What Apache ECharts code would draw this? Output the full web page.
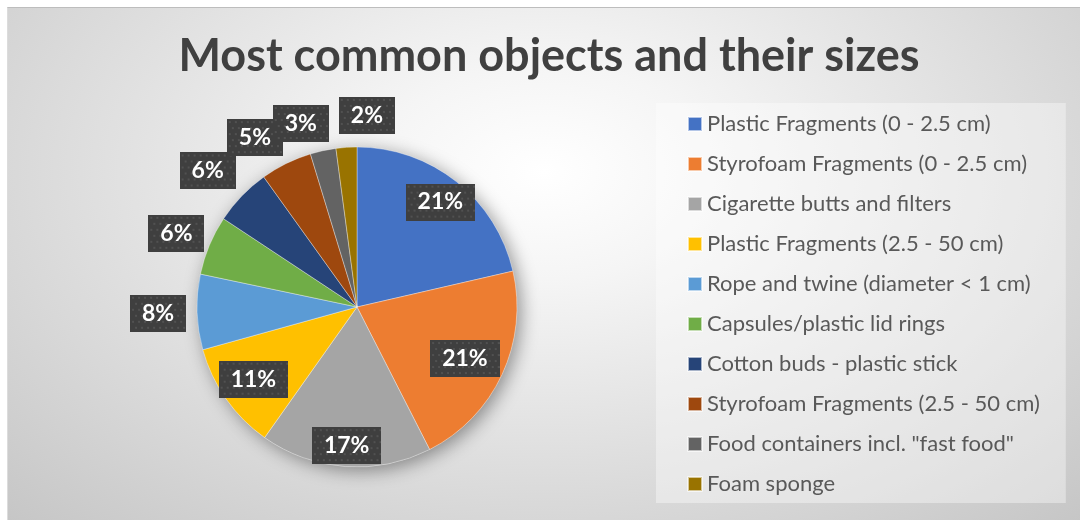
<!DOCTYPE html>
<html>
<head>
<meta charset="utf-8">
<title>Most common objects and their sizes</title>
<script src="https://cdn.jsdelivr.net/npm/echarts@6/dist/echarts.min.js"></script>
<style>
  html, body { margin: 0; padding: 0; background: #ffffff; }
  #chart {
    position: absolute; left: 7px; top: 7px; width: 1073px; height: 513px;
    background: radial-gradient(ellipse 72% 95% at 50% 32%, #ffffff 0%, #f5f5f5 22%, #dedede 60%, #c6c6c6 100%);
    border-top: 1px solid #bdbdbd;
    border-left: 1px solid #dcdcdc;
    box-sizing: border-box;
  }
</style>
</head>
<body>
<div id="chart"></div>
<script>
// Litter categories and their counts (share of all items found)
const categories = [
  'Plastic Fragments (0 - 2.5 cm)',
  'Styrofoam Fragments (0 - 2.5 cm)',
  'Cigarette butts and filters',
  'Plastic Fragments (2.5 - 50 cm)',
  'Rope and twine (diameter < 1 cm)',
  'Capsules/plastic lid rings',
  'Cotton buds - plastic stick',
  'Styrofoam Fragments (2.5 - 50 cm)',
  'Food containers incl. "fast food"',
  'Foam sponge'
];
const shares = [21.4, 21.1, 17.3, 10.9, 7.6, 6.0, 5.8, 5.2, 2.6, 2.1];
const colors = ['#4472C4', '#ED7D31', '#A5A5A5', '#FFC000', '#5B9BD5',
                '#70AD47', '#264478', '#9E480E', '#636363', '#997300'];

// Slices whose percentage sits inside the pie; the rest go outside
const insideCount = 4;
// Small per-label nudges (dx, dy) so the callouts do not collide
const labelNudge = [[3, -4], [-9, -3], [-1, 10], [2, -2],
                    [0, 0], [3, 3], [-6, 2], [-14, 9], [-14, 11], [23, 7]];

const CX = 349, CY = 299, R = 160;

// Dark dotted fill for the percentage callouts
function dotted(w, h) {
  const c = document.createElement('canvas');
  c.width = w; c.height = h;
  const g = c.getContext('2d');
  g.fillStyle = '#3f3f3f';
  g.fillRect(0, 0, w, h);
  g.fillStyle = '#575757';
  let row = 0;
  for (let y = 3; y < h; y += 6, row++) {
    for (let x = (row % 2 ? 6 : 3); x < w; x += 6) {
      g.beginPath();
      g.arc(x, y, 1.1, 0, Math.PI * 2);
      g.fill();
    }
  }
  return c;
}

const FONT = 'Lato, "Open Sans", sans-serif';

function calloutLabel(bgCanvas) {
  return {
    position: 'inside',
    formatter: '{d}%',
    color: '#ffffff',
    fontFamily: FONT,
    fontWeight: 'bold',
    fontSize: 23,
    lineHeight: 23,
    padding: [7, 12, 7, 12],
    backgroundColor: { image: bgCanvas },
    shadowColor: 'rgba(0,0,0,0.45)',
    shadowBlur: 5,
    shadowOffsetX: 2,
    shadowOffsetY: 3
  };
}

const chart = echarts.init(document.getElementById('chart'), null, { renderer: 'canvas' });

const mainData = categories.map((name, i) => ({
  name, value: shares[i], itemStyle: { color: colors[i] }
}));

function overlayData(showFn) {
  return categories.map((name, i) => ({
    name, value: shares[i], label: { show: showFn(i) }
  }));
}

function nudgeLayout(params) {
  const n = labelNudge[params.dataIndex] || [0, 0];
  return { dx: n[0], dy: n[1] };
}

const overlayCommon = {
  type: 'pie',
  center: [CX, CY],
  startAngle: 90,
  silent: true,
  percentPrecision: 0,
  itemStyle: { color: 'rgba(0,0,0,0)', borderWidth: 0 },
  emphasis: { disabled: true },
  labelLine: { show: false },
  labelLayout: nudgeLayout,
  animation: false
};

chart.setOption({
  backgroundColor: 'transparent',
  animation: false,
  title: {
    text: 'Most common objects and their sizes',
    left: 541,
    top: 26,
    padding: 0,
    textAlign: 'center',
    textStyle: {
      fontFamily: FONT,
      fontWeight: 'bold',
      fontSize: 45,
      color: '#404040'
    }
  },
  legend: {
    orient: 'vertical',
    left: 648,
    top: 95,
    padding: [10, 26, 8, 31],
    itemGap: 18,
    itemWidth: 14,
    itemHeight: 14,
    icon: 'rect',
    backgroundColor: 'rgba(255,255,255,0.38)',
    data: categories,
    textStyle: {
      fontFamily: FONT,
      fontSize: 22,
      lineHeight: 22,
      color: '#595959'
    }
  },
  series: [
    {
      // soft drop shadow under the whole pie
      type: 'pie',
      center: [CX, CY],
      radius: [0, R],
      silent: true,
      label: { show: false },
      labelLine: { show: false },
      emphasis: { disabled: true },
      data: [{ name: 'pie-shadow', value: 1 }],
      itemStyle: {
        color: '#d0d0d0',
        shadowColor: 'rgba(0,0,0,0.4)',
        shadowBlur: 18,
        shadowOffsetX: 4,
        shadowOffsetY: 4
      }
    },
    {
      type: 'pie',
      name: 'Items',
      center: [CX, CY],
      radius: [0, R],
      startAngle: 90,
      label: { show: false },
      labelLine: { show: false },
      emphasis: { disabled: true },
      itemStyle: { borderColor: 'rgba(255,255,255,0.6)', borderWidth: 0.6 },
      data: mainData
    },
    Object.assign({}, overlayCommon, {
      radius: [96, 156],
      label: calloutLabel(dotted(70, 37)),
      data: overlayData(i => i < insideCount)
    }),
    Object.assign({}, overlayCommon, {
      radius: [178, 214],
      label: calloutLabel(dotted(56, 37)),
      data: overlayData(i => i >= insideCount)
    })
  ]
});
</script>
</body>
</html>
